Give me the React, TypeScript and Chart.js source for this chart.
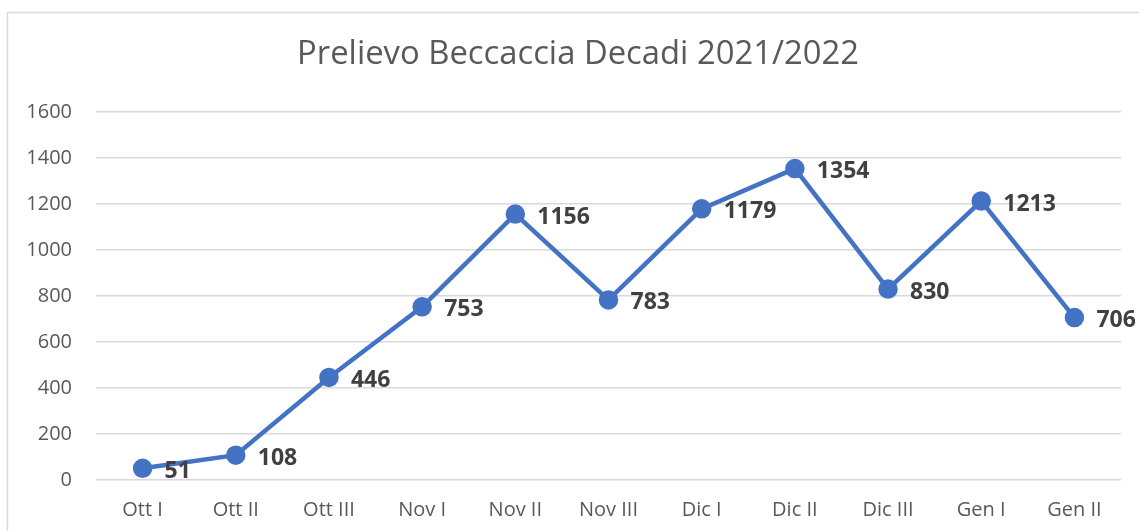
import React, { useEffect, useRef } from "react";
import { Chart, registerables } from "chart.js";

Chart.register(...registerables);

const categories = ["Ott I", "Ott II", "Ott III", "Nov I", "Nov II", "Nov III", "Dic I", "Dic II", "Dic III", "Gen I", "Gen II"];
const values = [51, 108, 446, 753, 1156, 783, 1179, 1354, 830, 1213, 706];
const titleText = "Prelievo Beccaccia Decadi 2021/2022";
const yMin = 0;
const yMax = 1600;
const yStep = 200;

const FONT = "'Open Sans', 'Liberation Sans', sans-serif";

const frameAndLabels = {
  id: "frameAndLabels",
  beforeDraw(chart: any) {
    const ctx = chart.ctx;
    ctx.save();
    ctx.fillStyle = "#ffffff";
    ctx.fillRect(0, 0, chart.width, chart.height);
    ctx.strokeStyle = "#d9d9d9";
    ctx.lineWidth = 1.5;
    ctx.beginPath();
    ctx.moveTo(7.5, chart.height + 5);
    ctx.lineTo(7.5, 12.5);
    ctx.lineTo(chart.width + 5, 12.5);
    ctx.stroke();
    ctx.fillStyle = "#595959";
    ctx.font = `32.8px ${FONT}`;
    ctx.textAlign = "center";
    ctx.textBaseline = "middle";
    ctx.fillText(titleText, 578, 55);
    ctx.restore();
  },
  afterDatasetsDraw(chart: any) {
    const ctx = chart.ctx;
    const meta = chart.getDatasetMeta(0);
    ctx.save();
    ctx.fillStyle = "#404040";
    ctx.font = `bold 23px ${FONT}`;
    ctx.textAlign = "left";
    ctx.textBaseline = "middle";
    meta.data.forEach((pt: any, i: number) => {
      ctx.fillText(String(values[i]), pt.x + 22, pt.y + 3);
    });
    ctx.restore();
  },
};

export default function App() {
  const ref = useRef<HTMLCanvasElement | null>(null);
  useEffect(() => {
    document.body.style.margin = "0";
    const canvas = ref.current!;
    const chart = new Chart(canvas, {
      type: "line",
      data: {
        labels: categories,
        datasets: [
          {
            data: values,
            borderColor: "#4472C4",
            backgroundColor: "#4472C4",
            borderWidth: 4.5,
            pointRadius: 7.5,
            pointHoverRadius: 7.5,
            pointBackgroundColor: "#4472C4",
            pointBorderColor: "#4472C4",
            tension: 0,
          },
        ],
      },
      options: {
        responsive: false,
        animation: false,
        events: [],
        layout: { padding: { top: 112, right: 18, left: 0, bottom: 0 } },
        plugins: {
          legend: { display: false },
          title: { display: false },
          tooltip: { enabled: false },
        },
        scales: {
          x: {
            offset: true,
            grid: { display: false, drawTicks: false },
            border: { display: false },
            ticks: {
              color: "#595959",
              font: { family: FONT, size: 20 },
              padding: 18,
              maxRotation: 0,
              autoSkip: false,
            },
            afterFit: (s: any) => {
              s.height = 51;
            },
          },
          y: {
            min: yMin,
            max: yMax,
            grid: { color: "#d9d9d9", lineWidth: 1.5, drawTicks: false },
            border: { display: false },
            ticks: {
              stepSize: yStep,
              color: "#595959",
              font: { family: FONT, size: 20 },
              padding: 24,
              callback: (v: any) => String(v),
            },
            afterFit: (s: any) => {
              s.width = 96;
            },
          },
        },
      },
      plugins: [frameAndLabels],
    });
    return () => chart.destroy();
  }, []);
  return <canvas ref={ref} width={1139} height={531} style={{ display: "block" }} />;
}
